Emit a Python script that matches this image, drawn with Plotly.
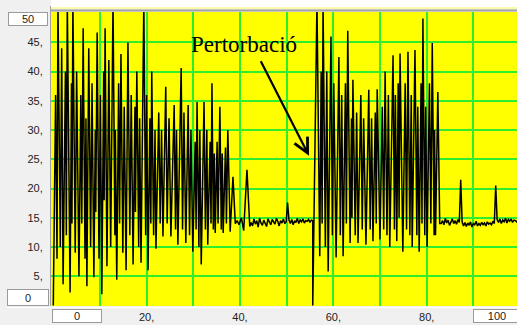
import plotly.graph_objects as go

# ---------------- data ----------------
# oscillating part 1 (time, value)
osc1_t = [0.0, 0.5, 0.8, 1.0, 1.5, 1.8, 2.1, 2.6, 2.8, 3.0, 3.6, 3.9, 4.0, 4.2, 4.7, 5.0,
          5.5, 5.9, 6.1, 6.4, 6.8, 7.0, 7.2, 7.6, 8.0, 8.3, 8.7, 9.0, 9.1, 9.4, 9.8, 10.1,
          10.4, 10.8, 10.9, 11.1, 11.5, 11.9, 12.3, 12.8, 13.2, 13.3, 13.6, 14.0, 14.2,
          14.5, 14.9, 15.2, 15.6, 16.0, 16.4, 16.7, 17.1, 17.5, 17.6, 17.9, 18.3, 18.5,
          18.8, 19.4, 19.8, 20.0, 20.3, 20.7, 20.9, 21.1, 21.5, 21.8, 22.0, 22.6, 22.9,
          23.2, 23.5, 24.1, 24.4, 24.8, 25.2, 25.9, 26.2, 26.4, 26.7, 27.4, 27.7, 28.0,
          28.4, 28.9, 29.2, 29.5, 29.9, 30.4, 30.6, 30.8, 31.2, 31.4, 31.7, 32.3, 32.6,
          32.9, 33.1, 33.6, 33.8, 34.0, 34.3, 34.5, 34.7, 35.1, 35.3, 35.7, 36.0, 36.2,
          36.4, 36.9, 37.1, 37.4, 37.9, 38.5, 39.0, 39.4, 39.8, 40.3, 40.8, 41.5, 42.1]
osc1_y = [0.0, 36, 8, 52, 10, 44, 3.6, 40, 12, 52, 2.2, 38, 14, 52, 9, 40,
          5.0, 36, 14, 47.4, 8, 32, 3.3, 44, 10, 38, 4.8, 30, 16, 46.7, 8, 36,
          1.9, 40, 18, 47.4, 6.7, 42, 10, 52, 12, 30, 4.4, 38, 14,
          43, 9, 34, 6.0, 45, 12, 36, 7.0, 34, 16, 40, 10, 32,
          7.3, 52, 12, 36, 6.0, 32, 14, 40, 12, 30, 9.7, 33, 14,
          30, 11.8, 37.4, 14, 32, 11.8, 34.3, 13, 30, 10.4, 40.6, 13, 33,
          10.7, 34.3, 12, 30, 9.2, 28, 13, 34.8, 10, 30, 7.0, 34.8, 13,
          30, 10.4, 28, 14, 38, 13, 26, 12.4, 28, 14, 34, 13, 26,
          12.4, 27, 14, 30, 12.6, 22, 14.0, 14.5, 13.8, 15.0, 12.8, 23.2, 13.5]

# flat noisy part 1 (values sampled every 0.3 from 42.4)
flat1_start = 42.4
flat1_step = 0.3
flat1_y = [14.2, 13.6, 14.8, 13.9, 14.5, 13.4, 14.9, 14.1, 13.7, 14.6, 14.0, 13.5, 14.8,
           14.2, 13.8, 14.7, 14.3, 13.9, 14.9, 14.4, 13.6, 14.5, 14.1, 14.8, 14.0, 14.3,
           17.6, 14.6, 14.0, 14.7, 13.8, 14.5, 14.2, 14.9, 14.0, 14.6, 14.3, 14.8, 14.1,
           14.5, 14.4, 14.7, 14.2, 14.6, 14.5]

# disturbance + oscillating part 2
osc2_t = [55.6, 56.5, 57.1, 57.4, 57.6, 57.8, 58.3, 58.6, 58.9, 59.5, 59.8, 60.1, 60.6,
          61.2, 61.5, 61.8, 62.1, 62.6, 62.8, 63.1, 63.6, 63.9, 64.0, 64.2, 64.7, 65.0,
          65.3, 65.9, 66.2, 66.5, 67.0, 67.6, 67.9, 68.2, 68.5, 69.0, 69.2, 69.4, 70.0,
          70.5, 70.8, 71.1, 71.5, 71.8, 72.1, 72.8, 73.1, 73.3, 73.6, 73.9, 74.1, 74.3,
          74.9, 75.4, 75.7, 76.0, 76.4, 76.7, 76.9, 77.5, 77.9, 78.1, 78.4, 78.8, 79.0,
          79.2, 79.6, 79.8, 80.1, 80.6, 80.9, 81.2, 81.6, 81.7, 81.9, 82.4, 82.8, 83.1]
osc2_y = [0.0, 52, 8.4, 40, 14, 52, 10, 40, 5.8, 46, 12, 38, 8.2,
          42.5, 12, 36, 8.4, 38, 14, 47, 10.7, 32, 15, 38.6, 12, 33,
          10.7, 36, 13, 32, 10.4, 36.9, 13, 32, 11.0, 33, 14, 37, 11.3,
          34, 13, 40, 12, 36, 10.0, 42.8, 13, 36, 11.0, 38, 15, 43.1,
          9.2, 38, 13, 43.4, 12, 36, 10.0, 43.7, 12, 34, 9.2, 38, 14,
          49.1, 12, 34, 10.0, 38, 14, 44.9, 12, 30, 12.0, 36.5, 14, 14.0]

# flat noisy part 2 (values sampled every 0.3 from 83.4)
flat2_start = 83.4
flat2_step = 0.3
flat2_y = [14.5, 13.8, 14.9, 14.1, 14.6, 13.7, 14.4, 14.8, 14.0, 14.5, 13.9, 14.7, 14.2,
           21.5, 14.3, 13.6, 14.2, 13.5, 14.1, 13.7, 14.3, 13.4, 14.0, 13.8, 14.4, 13.6,
           14.0, 13.7, 14.2, 13.8, 14.1, 13.6, 14.3, 13.9, 14.1, 13.8, 14.4, 14.0, 20.5,
           14.7, 14.2, 14.8, 14.0, 14.6, 14.3, 14.9, 14.1, 14.7, 14.4, 14.8, 14.2, 14.6,
           14.5, 14.3, 14.6]

y_tick_vals = [5, 10, 15, 20, 25, 30, 35, 40, 45]
y_tick_text = ["5,", "10,", "15,", "20,", "25,", "30,", "35,", "40,", "45,"]
x_grid_vals = [10, 20, 30, 40, 50, 60, 70, 80, 90]
x_tick_text = ["", "20,", "", "40,", "", "60,", "", "80,", ""]
annotation_text = "Pertorbació"

# ---------------- build series ----------------
flat1_t = [flat1_start + i * flat1_step for i in range(len(flat1_y))]
flat2_t = [flat2_start + i * flat2_step for i in range(len(flat2_y))]
t = osc1_t + flat1_t + osc2_t + flat2_t
y = osc1_y + flat1_y + osc2_y + flat2_y

W, H = 517, 325
L, R, T, B = 51, 0, 12, 19
pw, ph = W - L - R, H - T - B


def px(xp):
    return (xp - L) / pw


def py(yp):
    return (H - B - yp) / ph


fig = go.Figure()
fig.add_trace(go.Scatter(x=t, y=y, mode="lines",
                         line=dict(color="black", width=1.5),
                         hoverinfo="skip", showlegend=False))

tickfont = dict(family="Liberation Sans, Arial, sans-serif", size=11, color="#222222")

fig.update_layout(
    width=W, height=H,
    margin=dict(l=L, r=R, t=T, b=B, pad=0),
    paper_bgcolor="#F0F0F0",
    plot_bgcolor="#FFFF00",
    xaxis=dict(range=[-0.49, 99.36], tickvals=x_grid_vals, ticktext=x_tick_text,
               showgrid=True, gridcolor="#2EEE2E", gridwidth=1.5, zeroline=False,
               ticks="outside", ticklen=1, tickcolor="rgba(0,0,0,0)",
               tickfont=tickfont, showline=False, fixedrange=True),
    yaxis=dict(range=[-0.1, 50.2], tickvals=y_tick_vals, ticktext=y_tick_text,
               showgrid=True, gridcolor="#2EEE2E", gridwidth=1.5, zeroline=False,
               ticks="outside", ticklen=5, tickcolor="rgba(0,0,0,0)",
               tickfont=tickfont, showline=False, fixedrange=True),
)

shapes = [
    dict(type="rect", xref="paper", yref="paper", x0=px(51), x1=px(520), y0=py(7.5), y1=py(-2),
         fillcolor="white", line=dict(width=0), layer="above"),
    dict(type="line", xref="paper", yref="paper", x0=px(51), x1=px(520), y0=py(8), y1=py(8),
         line=dict(color="#FFFF60", width=1), layer="above"),
    dict(type="line", xref="paper", yref="paper", x0=px(51), x1=px(520), y0=py(10.5), y1=py(10.5),
         line=dict(color="#A0A0A0", width=2), layer="above"),
    dict(type="line", xref="paper", yref="paper", x0=px(50.5), x1=px(50.5), y0=py(306), y1=py(6),
         line=dict(color="#A0A0A0", width=1), layer="above"),
    dict(type="line", xref="paper", yref="paper", x0=px(7), x1=px(520), y0=py(307.5), y1=py(307.5),
         line=dict(color="#FFFFFF", width=1), layer="above"),
]
fig.update_layout(shapes=shapes)

box = dict(bgcolor="white", bordercolor="#9A9A9A", borderwidth=1, borderpad=0,
           font=tickfont, showarrow=False, xref="paper", yref="paper",
           xanchor="center", yanchor="middle")
anns = [
    dict(text="50", x=px(28), y=py(19), width=38, height=12, **box),
    dict(text="0", x=px(28), y=py(297.5), width=40, height=15, **box),
    dict(text="0", x=px(77), y=py(316), width=48, height=12, **box),
    dict(text="100", x=px(497), y=py(316), width=46, height=12, **box),
    dict(text=annotation_text, x=px(244), y=py(44), xref="paper", yref="paper",
         showarrow=False, xanchor="center", yanchor="middle",
         font=dict(family="Liberation Serif, Times New Roman, serif", size=23, color="black")),
    dict(text="", x=54.8, y=25.6, xref="x", yref="y", showarrow=True,
         ax=-49, ay=-96, axref="pixel", ayref="pixel",
         arrowhead=5, arrowsize=1.3, arrowwidth=2.2, arrowcolor="black"),
]
fig.update_layout(annotations=anns)

fig.write_html("out.html")
